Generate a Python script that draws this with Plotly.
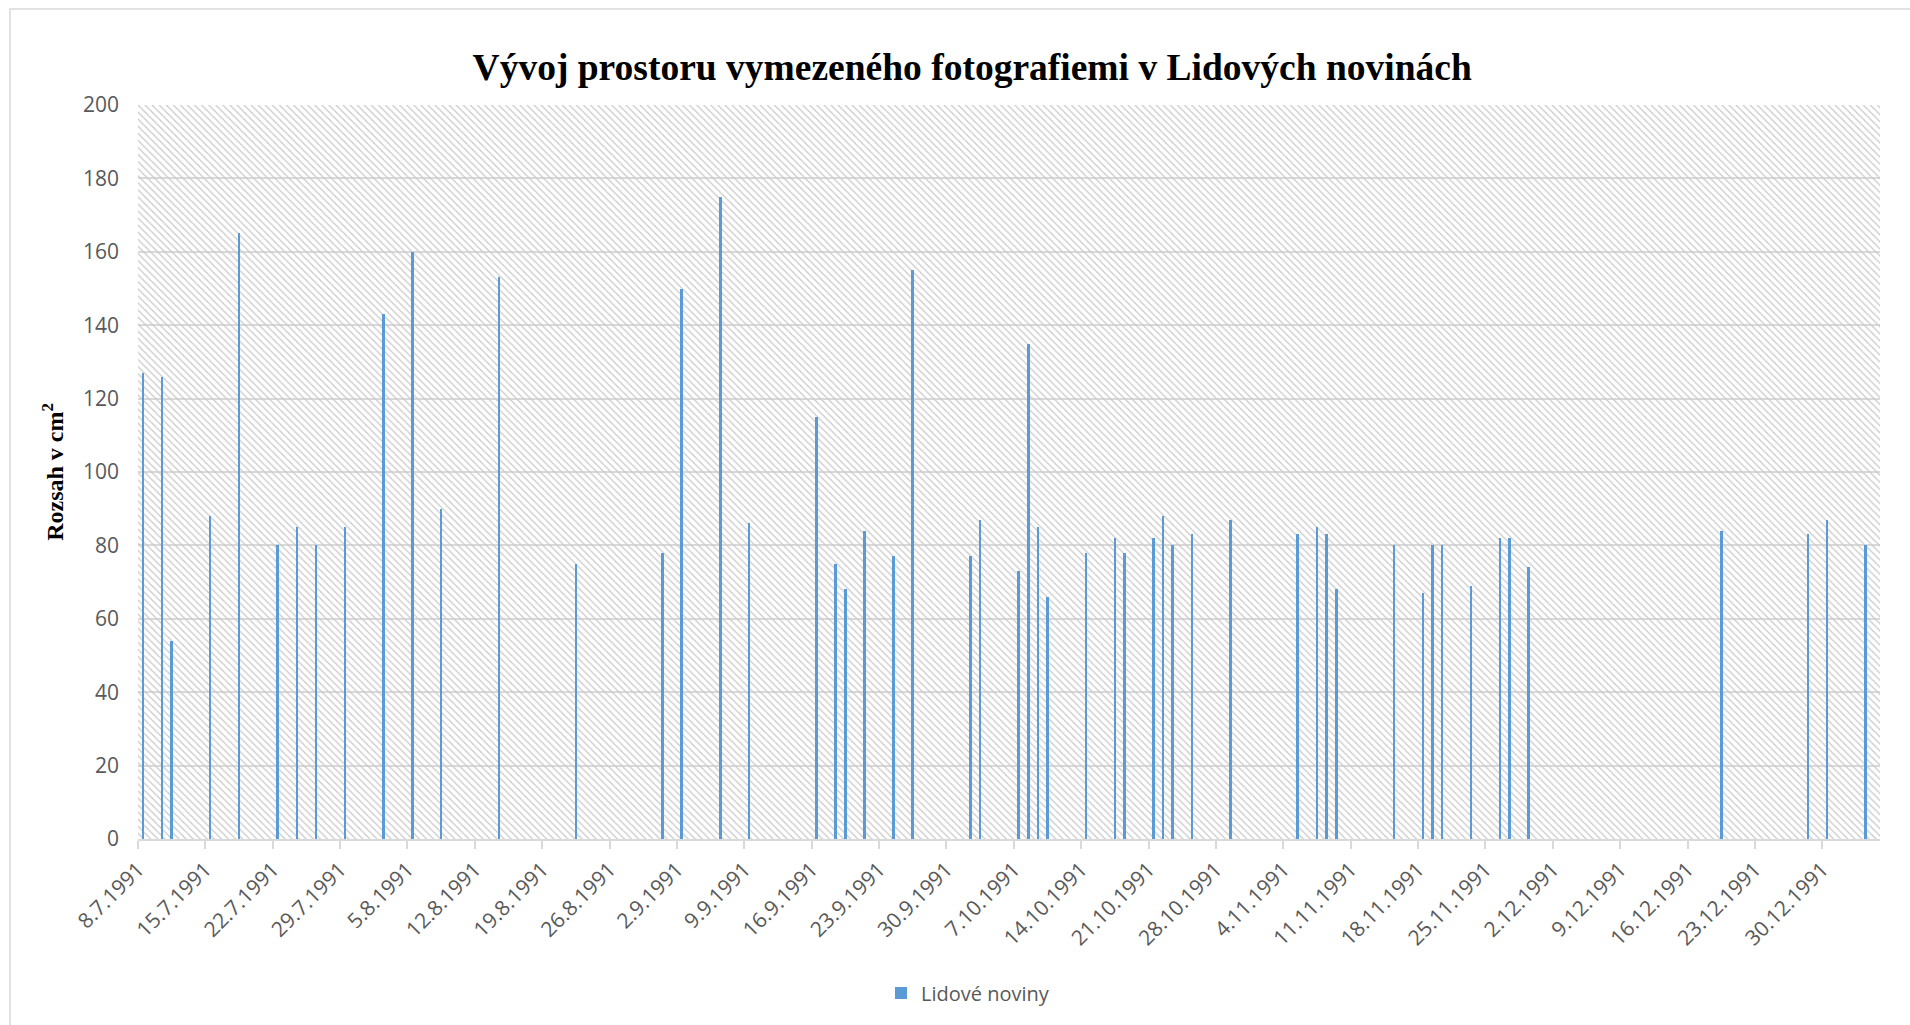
import plotly.graph_objects as go

# ---- data ----
dates = [
    "1991-07-08", "1991-07-10", "1991-07-11", "1991-07-15", "1991-07-18",
    "1991-07-22", "1991-07-24", "1991-07-26", "1991-07-29", "1991-08-02",
    "1991-08-05", "1991-08-08", "1991-08-14", "1991-08-22", "1991-08-31",
    "1991-09-02", "1991-09-06", "1991-09-09", "1991-09-16", "1991-09-18",
    "1991-09-19", "1991-09-21", "1991-09-24", "1991-09-26", "1991-10-02",
    "1991-10-03", "1991-10-07", "1991-10-08", "1991-10-09", "1991-10-10",
    "1991-10-14", "1991-10-17", "1991-10-18", "1991-10-21", "1991-10-22",
    "1991-10-23", "1991-10-25", "1991-10-29", "1991-11-05", "1991-11-07",
    "1991-11-08", "1991-11-09", "1991-11-15", "1991-11-18", "1991-11-19",
    "1991-11-20", "1991-11-23", "1991-11-26", "1991-11-27", "1991-11-29",
    "1991-12-19", "1991-12-28", "1991-12-30", "1992-01-03",
]
values = [
    127, 126, 54, 88, 165,
    80, 85, 80, 85, 143,
    160, 90, 153, 75, 78,
    150, 175, 86, 115, 75,
    68, 84, 77, 155, 77,
    87, 73, 135, 85, 66,
    78, 82, 78, 82, 88,
    80, 83, 87, 83, 85,
    83, 68, 80, 67, 80,
    80, 69, 82, 82, 74,
    84, 83, 87, 80,
]
tick_dates = [
    "1991-07-08", "1991-07-15", "1991-07-22", "1991-07-29", "1991-08-05",
    "1991-08-12", "1991-08-19", "1991-08-26", "1991-09-02", "1991-09-09",
    "1991-09-16", "1991-09-23", "1991-09-30", "1991-10-07", "1991-10-14",
    "1991-10-21", "1991-10-28", "1991-11-04", "1991-11-11", "1991-11-18",
    "1991-11-25", "1991-12-02", "1991-12-09", "1991-12-16", "1991-12-23",
    "1991-12-30",
]
tick_labels = [
    "8.7.1991", "15.7.1991", "22.7.1991", "29.7.1991", "5.8.1991",
    "12.8.1991", "19.8.1991", "26.8.1991", "2.9.1991", "9.9.1991",
    "16.9.1991", "23.9.1991", "30.9.1991", "7.10.1991", "14.10.1991",
    "21.10.1991", "28.10.1991", "4.11.1991", "11.11.1991", "18.11.1991",
    "25.11.1991", "2.12.1991", "9.12.1991", "16.12.1991", "23.12.1991",
    "30.12.1991",
]
y_ticks = [0, 20, 40, 60, 80, 100, 120, 140, 160, 180, 200]

DAY_MS = 86400000
GRAY_TXT = "#595959"
GRID = "#d9d9d9"
BLUE = "#5B9BD5"

L, R, T, B = 138, 30, 105, 186
PW = 1910 - L - R
PH = 1025 - T - B

fig = go.Figure()

# hatched plot-area background (on hidden base axis, drawn beneath the data)
fig.add_trace(go.Bar(
    x=[0.5], y=[200], width=[1], xaxis="x", yaxis="y",
    marker=dict(color="rgba(0,0,0,0)", line=dict(width=0),
                pattern=dict(shape="\\", fgcolor="#c9c9c9", bgcolor="rgba(0,0,0,0)",
                             size=5, solidity=0.25, fillmode="replace")),
    hoverinfo="skip", showlegend=False,
))

fig.add_trace(go.Bar(
    x=dates, y=values, name="Lidové noviny", xaxis="x2", yaxis="y",
    marker=dict(color=BLUE, line=dict(width=0)),
    width=0.27 * DAY_MS,
    xperiod=DAY_MS, xperiodalignment="middle",
))

fig.update_layout(
    width=1910, height=1025,
    margin=dict(l=L, r=R, t=T, b=B),
    paper_bgcolor="white", plot_bgcolor="white",
    barmode="overlay", bargap=0,
    title=dict(text="<b>Vývoj prostoru vymezeného fotografiemi v Lidových novinách</b>",
               font=dict(family="Liberation Serif", size=37.5, color="black"),
               x=0.509, xref="container", xanchor="center",
               y=1 - 67 / 1025, yref="container", yanchor="middle"),
    xaxis=dict(range=[0, 1], visible=False, automargin=False),
    xaxis2=dict(
        overlaying="x", side="bottom", anchor="y",
        type="date",
        range=["1991-07-08", "1992-01-05"],
        tickmode="array", tickvals=tick_dates, ticktext=tick_labels,
        tickangle=-45,
        tickfont=dict(family="Open Sans", size=21, color=GRAY_TXT),
        showgrid=False, showline=True, linecolor=GRID, linewidth=2,
        ticks="outside", ticklen=8, tickcolor=GRID, tickwidth=2,
        zeroline=False, automargin=False,
    ),
    yaxis=dict(
        range=[0, 200], tickmode="array", tickvals=y_ticks,
        tickfont=dict(family="Open Sans", size=21, color=GRAY_TXT),
        showgrid=True, gridcolor=GRID, gridwidth=1.5,
        zeroline=False, showline=False, ticks="", ticklabelstandoff=18,
        automargin=False,
        title=dict(text="<b>Rozsah v cm<sup>2</sup></b>",
                   font=dict(family="Liberation Serif", size=24, color="black"),
                   standoff=12),
    ),
    legend=dict(orientation="h", x=(968 - L) / PW, xanchor="center",
                y=-(993 - (T + PH)) / PH, yanchor="middle",
                font=dict(family="Open Sans", size=20, color=GRAY_TXT),
                itemwidth=30),
    shapes=[dict(type="rect", xref="paper", yref="paper",
                 x0=(10 - L) / PW, x1=(1920 - L) / PW,
                 y0=((T + PH) - 1040) / PH, y1=((T + PH) - 9) / PH,
                 line=dict(color=GRID, width=1.5), fillcolor="rgba(0,0,0,0)",
                 layer="below")],
)

fig.write_html("out.html", config={"displayModeBar": False},
               post_script="document.body.style.margin='0';document.body.style.overflow='hidden';")
